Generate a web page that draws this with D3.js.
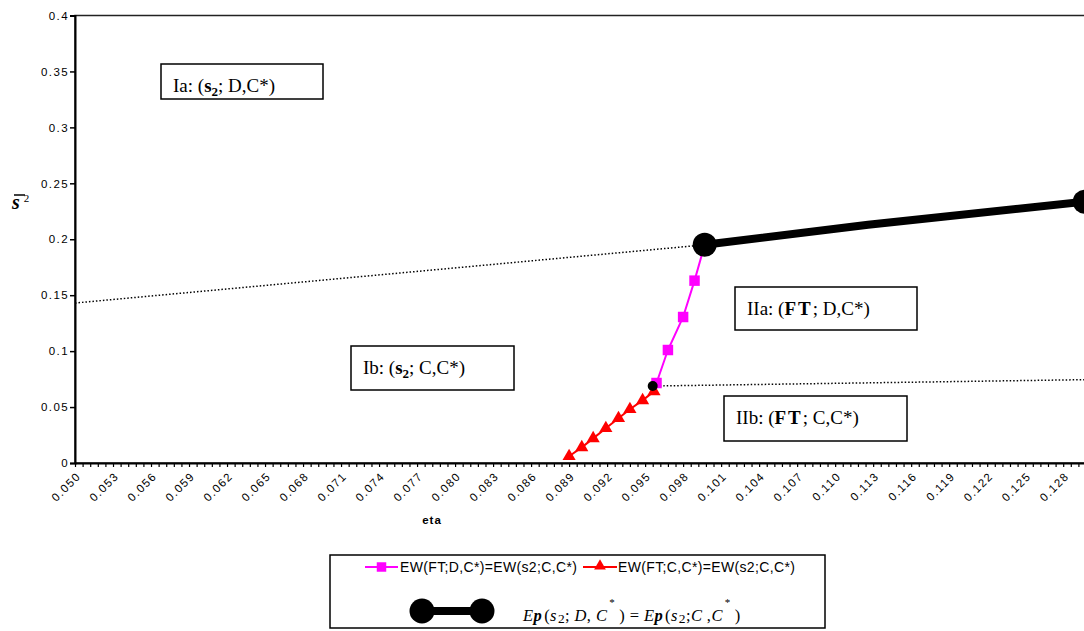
<!DOCTYPE html>
<html>
<head>
<meta charset="utf-8">
<script src="https://cdn.jsdelivr.net/npm/d3@7"></script>
<style>
  body { margin: 0; background: #fff; }
  svg { display: block; }
  .tick-lbl { font-family: "Liberation Sans", Arial, sans-serif; font-size: 11.5px; letter-spacing: 1.4px; }
  .serif { font-family: "Liberation Serif", "Times New Roman", serif; }
</style>
</head>
<body>
<svg width="1084" height="631"></svg>
<script>
// ---- data ----
// magenta: EW(FT;D,C*)=EW(s2;C,C*)
var ftD_eta = [0.0959, 0.0968, 0.0980, 0.0989, 0.0997];
var ftD_val = [0.0715, 0.101, 0.1305, 0.163, 0.195];
// red: EW(FT;C,C*)=EW(s2;C,C*)
var ftC_eta = [0.0890, 0.0900, 0.0909, 0.0919, 0.0929, 0.0938, 0.0948, 0.0957];
var ftC_val = [0.006, 0.014, 0.022, 0.031, 0.040, 0.048, 0.056, 0.064];
// thick black: Ep(s2;D,C*) = Ep(s2;C,C*)
var ep_eta = [0.0997, 0.1126, 0.1297];
var ep_val = [0.195, 0.213, 0.2335];
// dotted boundaries
var upper_eta = [0.050, 0.0997];
var upper_val = [0.143, 0.195];
var lower_eta = [0.0956, 0.1297];
var lower_val = [0.0688, 0.0745];
// small black dot
var dot_eta = [0.0956];
var dot_val = [0.0688];

// axes
var yTicks = [0, 0.05, 0.1, 0.15, 0.2, 0.25, 0.3, 0.35, 0.4];
var yLabels = ["0", "0.05", "0.1", "0.15", "0.2", "0.25", "0.3", "0.35", "0.4"];
var etaStart = 0.050, etaStep = 0.0006, nCats = 133;   // category axis, label every 5th
var xLabels = ["0.050","0.053","0.056","0.059","0.062","0.065","0.068","0.071","0.074","0.077",
               "0.080","0.083","0.086","0.089","0.092","0.095","0.098","0.101","0.104","0.107",
               "0.110","0.113","0.116","0.119","0.122","0.125","0.128"];

var svg = d3.select("svg");

var x = d3.scaleLinear().domain([etaStart, etaStart + etaStep * nCats]).range([75, 1086]);
var y = d3.scaleLinear().domain([0, 0.4]).range([463, 15.5]);

function pts(a, b) { return a.map(function(d, i) { return [d, b[i]]; }); }
var line = d3.line().x(function(d) { return x(d[0]); }).y(function(d) { return y(d[1]); });

// plot frame (top edge visible, right edge outside picture)
svg.append("rect")
    .attr("x", 75).attr("y", 15.5)
    .attr("width", 1086 - 75).attr("height", 463 - 15.5)
    .attr("fill", "none").attr("stroke", "#222").attr("stroke-width", 1.5);

// y axis
var yAxis = svg.append("g").attr("transform", "translate(75,0)")
    .call(d3.axisLeft(y).tickValues(yTicks).tickSize(5)
        .tickFormat(function(d, i) { return yLabels[i]; }));
yAxis.select(".domain").attr("stroke", "#000").attr("stroke-width", 2);
yAxis.selectAll(".tick line").attr("stroke", "#000").attr("stroke-width", 1.5);
yAxis.selectAll(".tick text").attr("class", "tick-lbl").attr("x", -6).attr("fill", "#000");

// x axis: ticks at every category
var catTicks = d3.range(0, nCats + 1).map(function(k) { return etaStart + etaStep * k; });
var xAxis = svg.append("g").attr("transform", "translate(0,463)")
    .call(d3.axisBottom(x).tickValues(catTicks).tickSize(4).tickSizeOuter(0)
        .tickFormat(function(d, i) { return i % 5 === 0 ? xLabels[i / 5] : ""; }));
xAxis.select(".domain").attr("stroke", "#000").attr("stroke-width", 2);
xAxis.selectAll(".tick line").attr("stroke", "#000").attr("stroke-width", 1.2);
xAxis.selectAll(".tick text")
    .attr("class", "tick-lbl").attr("fill", "#000")
    .attr("text-anchor", "end").attr("dy", null)
    .attr("transform", "translate(6,14) rotate(-45)")
    .attr("x", 0).attr("y", 0);

// axis titles
svg.append("text").attr("x", 432).attr("y", 524).attr("text-anchor", "middle")
    .style("font-family", "Liberation Sans, Arial, sans-serif").style("font-size", "11.5px")
    .style("font-weight", "bold").style("letter-spacing", "1px").text("eta");

var yt = svg.append("text").attr("class", "serif").attr("x", 12).attr("y", 209);
yt.append("tspan").style("font-size", "20px").style("font-weight", "bold").style("font-style", "italic").text("s");
yt.append("tspan").style("font-size", "11px").attr("dx", 4).attr("dy", -7).text("2");
svg.append("line").attr("x1", 14).attr("x2", 25).attr("y1", 195).attr("y2", 195)
    .attr("stroke", "#000").attr("stroke-width", 1.5);

// dotted boundaries
[[upper_eta, upper_val], [lower_eta, lower_val]].forEach(function(s) {
  svg.append("path").attr("d", line(pts(s[0], s[1])))
      .attr("fill", "none").attr("stroke", "#000").attr("stroke-width", 1.5)
      .attr("stroke-dasharray", "1.5,2");
});

// red series
svg.append("path").attr("d", line(pts(ftC_eta, ftC_val).concat([[ftD_eta[0], ftD_val[0]]])))
    .attr("fill", "none").attr("stroke", "#ff0000").attr("stroke-width", 2);
svg.selectAll(".tri").data(pts(ftC_eta, ftC_val)).enter().append("path")
    .attr("transform", function(d) { return "translate(" + x(d[0]) + "," + y(d[1]) + ")"; })
    .attr("d", d3.symbol().type(d3.symbolTriangle).size(75))
    .attr("fill", "#ff0000");

// magenta series
svg.append("path").attr("d", line(pts(ftD_eta, ftD_val)))
    .attr("fill", "none").attr("stroke", "#ff00ff").attr("stroke-width", 2);
svg.selectAll(".sq").data(pts(ftD_eta, ftD_val)).enter().append("path")
    .attr("transform", function(d) { return "translate(" + x(d[0]) + "," + y(d[1]) + ")"; })
    .attr("d", d3.symbol().type(d3.symbolSquare).size(110))
    .attr("fill", "#ff00ff");

// thick black series
svg.append("path").attr("d", line(pts(ep_eta, ep_val)))
    .attr("fill", "none").attr("stroke", "#000").attr("stroke-width", 8);
svg.selectAll(".big").data([[ep_eta[0], ep_val[0]], [ep_eta[ep_eta.length - 1], ep_val[ep_val.length - 1]]])
    .enter().append("circle")
    .attr("cx", function(d) { return x(d[0]); }).attr("cy", function(d) { return y(d[1]); })
    .attr("r", 12).attr("fill", "#000");
svg.selectAll(".small").data(pts(dot_eta, dot_val)).enter().append("circle")
    .attr("cx", function(d) { return x(d[0]); }).attr("cy", function(d) { return y(d[1]); })
    .attr("r", 5).attr("fill", "#000");

// region labels
function regionBox(bx, by, bw, bh, parts) {
  svg.append("rect").attr("x", bx).attr("y", by).attr("width", bw).attr("height", bh)
      .attr("fill", "#fff").attr("stroke", "#000").attr("stroke-width", 1.5);
  var t = svg.append("text").attr("class", "serif").attr("x", bx + 12).attr("y", by + 28)
      .style("font-size", "19px");
  parts.forEach(function(p) {
    var s = t.append("tspan").text(p.t);
    if (p.b) s.style("font-weight", "bold");
    if (p.sub) s.style("font-size", "13px").attr("dy", 4);
    if (p.back) s.attr("dy", -4);
    if (p.ls) s.style("letter-spacing", p.ls);
  });
}
regionBox(161, 64, 162, 35, [{t: "Ia: ("}, {t: "s", b: 1}, {t: "2", b: 1, sub: 1}, {t: "; D,C*)", back: 1}]);
regionBox(351, 346, 163, 44, [{t: "Ib: ("}, {t: "s", b: 1}, {t: "2", b: 1, sub: 1}, {t: "; C,C*)", back: 1}]);
regionBox(735, 287, 182, 43, [{t: "IIa: ("}, {t: "FT", b: 1, ls: "2px"}, {t: "; D,C*)"}]);
regionBox(724, 396, 183, 45, [{t: "IIb: ("}, {t: "FT", b: 1, ls: "2px"}, {t: "; C,C*)"}]);

// legend
var lg = svg.append("g");
lg.append("rect").attr("x", 330).attr("y", 555).attr("width", 495).attr("height", 73)
    .attr("fill", "#fff").attr("stroke", "#000").attr("stroke-width", 1.5);
var legendFamily = "Liberation Sans, Arial, sans-serif";

lg.append("line").attr("x1", 365).attr("x2", 398).attr("y1", 567).attr("y2", 567)
    .attr("stroke", "#ff00ff").attr("stroke-width", 2);
lg.append("path").attr("transform", "translate(381.5,567)")
    .attr("d", d3.symbol().type(d3.symbolSquare).size(90)).attr("fill", "#ff00ff");
lg.append("text").attr("x", 400).attr("y", 572).style("font-family", legendFamily)
    .style("font-size", "14px").style("letter-spacing", "0.35px").text("EW(FT;D,C*)=EW(s2;C,C*)");

lg.append("line").attr("x1", 583).attr("x2", 617).attr("y1", 567).attr("y2", 567)
    .attr("stroke", "#ff0000").attr("stroke-width", 2);
lg.append("path").attr("transform", "translate(600,566)")
    .attr("d", d3.symbol().type(d3.symbolTriangle).size(60)).attr("fill", "#ff0000");
lg.append("text").attr("x", 618).attr("y", 572).style("font-family", legendFamily)
    .style("font-size", "14px").style("letter-spacing", "0.35px").text("EW(FT;C,C*)=EW(s2;C,C*)");

lg.append("line").attr("x1", 422).attr("x2", 482).attr("y1", 611).attr("y2", 611)
    .attr("stroke", "#000").attr("stroke-width", 8);
lg.selectAll(".ld").data([422, 482]).enter().append("circle")
    .attr("cx", function(d) { return d; }).attr("cy", 611).attr("r", 12.5).attr("fill", "#000");

// formula: [text, style, dx, dy]
var formula = [["E", "i", 0, 0], ["p", "b", 0, 0], ["(", "n", 2, 0], ["s", "i", 0, 0], ["2", "sub", 1, 2],
  [";", "n", 0, -2], [" D", "i", 0, 0], [",", "n", 0, 0], [" C", "i", 0, 0], ["*", "sup", 2, -15],
  [")", "n", 4, 15], [" = ", "n", 0, 0], ["E", "i", 0, 0], ["p", "b", 0, 0], ["(", "n", 2, 0],
  ["s", "i", 0, 0], ["2", "sub", 1, 2], [";", "n", 0, -2], ["C", "i", 0, 0], [" ,", "n", 0, 0],
  ["C", "i", 0, 0], ["*", "sup", 2, -15], [")", "n", 4, 15]];
var ft = lg.append("text").attr("class", "serif").attr("x", 523).attr("y", 621)
    .style("font-size", "16.5px").style("letter-spacing", "0.4px");
formula.forEach(function(p) {
  var s = ft.append("tspan").text(p[0]).attr("dx", p[2]).attr("dy", p[3]);
  if (p[1] === "i") s.style("font-style", "italic");
  if (p[1] === "b") s.style("font-weight", "bold").style("font-style", "italic");
  if (p[1] === "sub") s.style("font-size", "13.5px");
  if (p[1] === "sup") s.style("font-size", "11px");
});
</script>
</body>
</html>
